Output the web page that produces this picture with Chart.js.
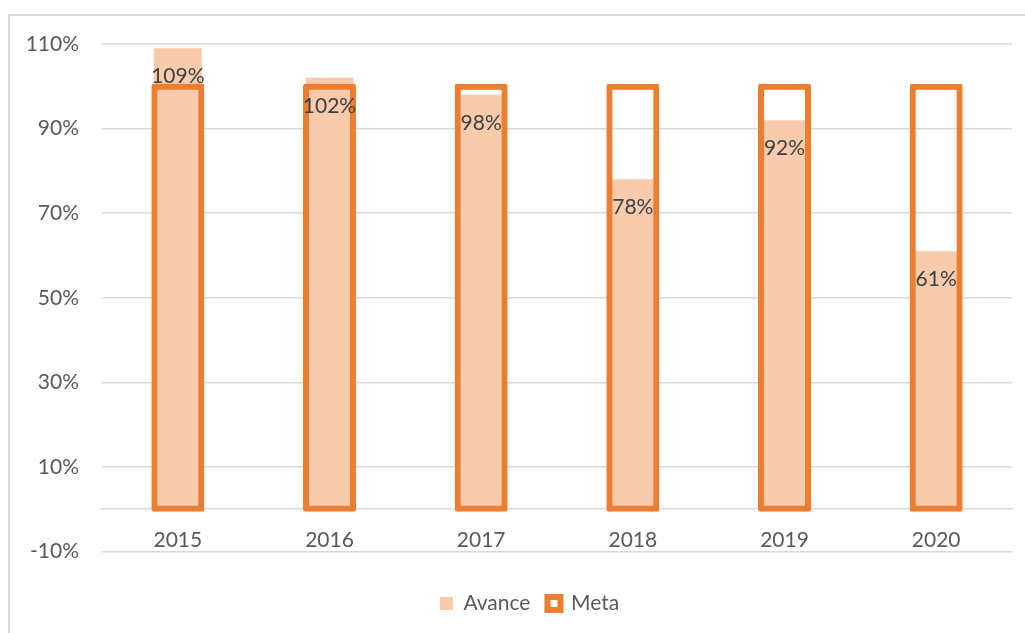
<!DOCTYPE html>
<html>
<head>
<meta charset="utf-8">
<script src="https://cdn.jsdelivr.net/npm/chart.js@4/dist/chart.umd.min.js"></script>
<style>
  html, body { margin: 0; padding: 0; overflow: hidden; background: #fff; width: 1025px; height: 633px; }
  #frame { position: absolute; left: 8px; top: 14px; width: 1100px; height: 700px; border-left: 2px solid #d9d9d9; border-top: 2px solid #d9d9d9; }
  #c { position: absolute; left: 0; top: 0; }
</style>
</head>
<body>
<div id="frame"></div>
<canvas id="c" width="1025" height="624"></canvas>
<script>
const categories = ['2015', '2016', '2017', '2018', '2019', '2020'];
const avance = [109, 102, 98, 78, 92, 61];
const meta = [100, 100, 100, 100, 100, 100];
const seriesNames = ['Avance', 'Meta'];
const yTicks = { min: -10, max: 110, step: 20 };

const FONT = 'Lato, "Open Sans", sans-serif';
const LIGHT = '#F8CBAD';
const ORANGE = '#ED7D31';

const valueLabels = {
  id: 'valueLabels',
  afterDatasetsDraw(chart) {
    const ctx = chart.ctx;
    const m = chart.getDatasetMeta(0);
    ctx.save();
    ctx.font = '21px ' + FONT;
    ctx.fillStyle = '#404040';
    ctx.textAlign = 'center';
    ctx.textBaseline = 'middle';
    m.data.forEach((bar, i) => {
      ctx.fillText(avance[i] + '%', bar.x, bar.y + 28);
    });
    ctx.restore();
  }
};

const legendShift = {
  id: 'legendShift',
  afterLayout(chart) {
    const L = chart.legend;
    if (L) { L.left = 47; L.width = L.right - L.left; }
  }
};

new Chart(document.getElementById('c'), {
  type: 'bar',
  data: {
    labels: categories,
    datasets: [
      {
        label: seriesNames[0],
        data: avance,
        backgroundColor: LIGHT,
        borderWidth: 0,
        barThickness: 48,
        grouped: false,
        inflateAmount: 0,
        order: 2
      },
      {
        label: seriesNames[1],
        data: meta,
        backgroundColor: 'rgba(0,0,0,0)',
        borderColor: ORANGE,
        borderWidth: 1,
        inflateAmount: 2.5,
        borderSkipped: false,
        borderRadius: 2,
        barThickness: 48,
        grouped: false,
        order: 1
      }
    ]
  },
  options: {
    responsive: false,
    animation: false,
    layout: { padding: { left: 0, right: 13, top: 44, bottom: 0 } },
    scales: {
      x: {
        position: { y: 0 },
        grid: { display: false, drawTicks: false },
        border: { display: true, color: '#d9d9d9', width: 1.5 },
        ticks: { color: '#595959', font: { family: FONT, size: 21 }, padding: 18 }
      },
      y: {
        min: yTicks.min,
        max: yTicks.max,
        afterFit(scale) { scale.width = 102; },
        grid: { color: '#d9d9d9', lineWidth: 1.5, drawTicks: false },
        border: { display: false },
        ticks: {
          stepSize: yTicks.step,
          color: '#595959',
          font: { family: FONT, size: 21 },
          padding: 23,
          callback: v => v + '%'
        }
      }
    },
    plugins: {
      tooltip: { enabled: false },
      title: {
        display: true,
        position: 'bottom',
        weight: 500,
        text: '',
        font: { size: 10, lineHeight: 1 },
        padding: { top: 14.5, bottom: 0 }
      },
      legend: {
        position: 'bottom',
        weight: 1000,
        labels: {
          color: '#595959',
          font: { family: FONT, size: 21 },
          boxWidth: 13,
          boxHeight: 13,
          padding: 17,
          generateLabels(chart) {
            const items = Chart.defaults.plugins.legend.labels.generateLabels(chart);
            items.forEach(it => {
              if (it.datasetIndex === 1) {
                it.fillStyle = '#ffffff';
                it.strokeStyle = ORANGE;
                it.lineWidth = 6;
              } else {
                it.fillStyle = LIGHT;
                it.lineWidth = 0;
              }
            });
            return items.sort((a, b) => a.datasetIndex - b.datasetIndex);
          }
        }
      }
    }
  },
  plugins: [valueLabels, legendShift]
});
</script>
</body>
</html>
